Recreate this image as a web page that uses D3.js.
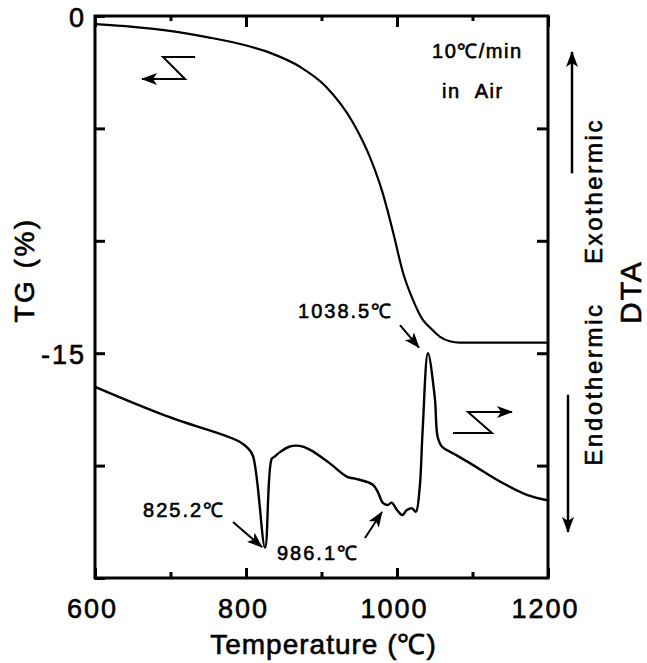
<!DOCTYPE html>
<html>
<head>
<meta charset="utf-8">
<script src="https://cdn.jsdelivr.net/npm/d3@7"></script>
<style>
  body { margin: 0; background: #fff; }
  text { font-family: "Liberation Sans", Arial, Helvetica, sans-serif; fill: #000; stroke: #000; stroke-width: 0.6px; }
</style>
</head>
<body>
<div id="chart"></div>
<script>
// Data
const tgTemp = [600, 650, 699, 750, 799, 832, 872, 905, 942, 964, 981, 995, 1008, 1021, 1034, 1044, 1057, 1070, 1083, 1200];
const tgValue = [-0.36, -0.48, -0.66, -0.95, -1.3, -1.64, -2.27, -3.11, -4.76, -6.27, -7.87, -9.64, -11.42, -12.62, -13.51, -13.87, -14.27, -14.47, -14.53, -14.53];

const dtaTemp = [600, 695, 779, 792, 801, 809, 825.2, 834, 838, 845, 858, 871, 885, 911, 934, 947, 968, 975, 981, 988, 993, 1000, 1007, 1013, 1020, 1025, 1030, 1034, 1041, 1050, 1054, 1060, 1074, 1097, 1140, 1172, 1200];
const dtaValue = [1.70, 1.44, 1.25, 1.21, 1.165, 1.09, 0.27, 1.06, 1.08, 1.12, 1.17, 1.175, 1.14, 1.02, 0.90, 0.88, 0.83, 0.76, 0.67, 0.65, 0.67, 0.605, 0.56, 0.605, 0.62, 0.59, 0.80, 1.32, 2.00, 1.61, 1.25, 1.165, 1.11, 1.02, 0.845, 0.74, 0.69];

const xMajorTicks = [600, 800, 1000, 1200];
const xMinorTicks = [700, 900, 1100];
const tgTicks = [0, -5, -10, -15, -20, -25];
const tgTickLabels = ['0', '', '', '-15', '', ''];
const dtaTicks = [1, 2, 3, 4];

const peakLabels = ['825.2℃', '986.1℃', '1038.5℃'];
const peakLabelAt = [[663.6, 0.543], [841, 0.16], [868.9, 2.313]];
const peakArrows = [[[782.8, 0.498], [821.2, 0.276]], [[957.6, 0.356], [980.1, 0.587]], [[1004, 2.25], [1029.1, 2.05]]];

function draw() {
    let dimensions = {
        width: 647,
        height: 663,
        margin: { top: 16, bottom: 85, left: 95, right: 99 }
    };
    dimensions.ctrWidth = dimensions.width - dimensions.margin.left - dimensions.margin.right;
    dimensions.ctrHeight = dimensions.height - dimensions.margin.top - dimensions.margin.bottom;

    // Scales
    const xScale = d3.scaleLinear().domain([600, 1200]).range([0, dimensions.ctrWidth]);
    const yTG = d3.scaleLinear().domain([-25, 0]).range([dimensions.ctrHeight, 0]);
    const yDTA = d3.scaleLinear().domain([0, 5]).range([dimensions.ctrHeight, 0]);

    const svg = d3.select('#chart')
        .append('svg')
        .attr('width', dimensions.width)
        .attr('height', dimensions.height);

    svg.append('defs').append('marker')
        .attr('id', 'head')
        .attr('markerUnits', 'userSpaceOnUse')
        .attr('markerWidth', 16).attr('markerHeight', 12)
        .attr('refX', 15).attr('refY', 6)
        .attr('orient', 'auto')
        .append('path')
        .attr('d', 'M0,0 L16,6 L0,12 L4,6 Z')
        .attr('fill', '#000');

    const ctr = svg.append('g')
        .attr('transform', `translate(${dimensions.margin.left},${dimensions.margin.top})`);

    // Axes (ticks inward)
    const styleAxis = g => {
        g.select('.domain').remove();
        g.selectAll('.tick line').attr('stroke', '#000').attr('stroke-width', 3);
        g.selectAll('.tick text')
            .attr('font-size', 27)
            .attr('font-family', '"Liberation Sans", Arial, sans-serif')
            .attr('letter-spacing', 2)
            .attr('fill', '#000');
    };

    ctr.append('g')
        .attr('transform', `translate(0,${dimensions.ctrHeight})`)
        .call(d3.axisBottom(xScale).tickValues(xMajorTicks).tickSize(-10).tickPadding(0).tickFormat(d3.format('d')))
        .call(styleAxis)
        .call(g => g.selectAll('.tick text').attr('y', 40).attr('dy', 0).attr('dx', -3));
    ctr.append('g')
        .attr('transform', `translate(0,${dimensions.ctrHeight})`)
        .call(d3.axisBottom(xScale).tickValues(xMinorTicks).tickSize(-6).tickFormat(''))
        .call(styleAxis);
    ctr.append('g')
        .call(d3.axisTop(xScale).tickValues(xMajorTicks).tickSize(-11).tickFormat(''))
        .call(styleAxis);
    ctr.append('g')
        .call(d3.axisTop(xScale).tickValues(xMinorTicks).tickSize(-5).tickFormat(''))
        .call(styleAxis);

    ctr.append('g')
        .call(d3.axisLeft(yTG).tickValues(tgTicks).tickSize(-10).tickPadding(0)
            .tickFormat((d, i) => tgTickLabels[i]))
        .call(styleAxis)
        .call(g => g.selectAll('.tick text').attr('x', -9).attr('dy', '0.38em'));

    ctr.append('g')
        .attr('transform', `translate(${dimensions.ctrWidth},0)`)
        .call(d3.axisRight(yDTA).tickValues(dtaTicks).tickSize(-11).tickFormat(''))
        .call(styleAxis);

    // Frame
    ctr.append('rect')
        .attr('width', dimensions.ctrWidth)
        .attr('height', dimensions.ctrHeight)
        .attr('fill', 'none')
        .attr('stroke', '#000')
        .attr('stroke-width', 3);

    // Curves
    const tgLine = d3.line()
        .x((d, i) => xScale(tgTemp[i]))
        .y(d => yTG(d))
        .curve(d3.curveMonotoneX);

    ctr.append('path')
        .datum(tgValue)
        .attr('d', tgLine)
        .attr('fill', 'none')
        .attr('stroke', '#000')
        .attr('stroke-width', 2.2);

    const dtaLine = d3.line()
        .x((d, i) => xScale(dtaTemp[i]))
        .y(d => yDTA(d))
        .curve(d3.curveCatmullRom.alpha(0.5));

    ctr.append('path')
        .datum(dtaValue)
        .attr('d', dtaLine)
        .attr('fill', 'none')
        .attr('stroke', '#000')
        .attr('stroke-width', 2.4)
        .attr('stroke-linejoin', 'round');

    // Peak labels
    ctr.selectAll('.peak-label')
        .data(peakLabels)
        .join('text')
        .attr('class', 'peak-label')
        .attr('x', (d, i) => xScale(peakLabelAt[i][0]))
        .attr('y', (d, i) => yDTA(peakLabelAt[i][1]))
        .attr('font-size', 20)
        .attr('letter-spacing', 2)
        .text(d => d);

    ctr.selectAll('.peak-arrow')
        .data(peakArrows)
        .join('line')
        .attr('class', 'peak-arrow')
        .attr('x1', d => xScale(d[0][0]))
        .attr('y1', d => yDTA(d[0][1]))
        .attr('x2', d => xScale(d[1][0]))
        .attr('y2', d => yDTA(d[1][1]))
        .attr('stroke', '#000')
        .attr('stroke-width', 2)
        .attr('marker-end', 'url(#head)');

    // Conditions
    ctr.append('text')
        .attr('x', xScale(1046.4))
        .attr('y', yTG(-1.87))
        .attr('font-size', 20)
        .attr('letter-spacing', 1.5)
        .text('10℃/min');
    ctr.append('text')
        .attr('x', xScale(1059.6))
        .attr('y', yTG(-3.64))
        .attr('font-size', 20)
        .attr('letter-spacing', 1.5)
        .text('in\u00a0\u00a0Air');

    // Curve markers: TG -> left axis, DTA -> right axis
    const zLine = d3.line().x(d => xScale(d[0]));
    ctr.append('path')
        .attr('d', zLine.y(d => yTG(d[1]))([[732.5, -1.82], [690.1, -1.82], [719.2, -2.80], [662.3, -2.80]]))
        .attr('fill', 'none')
        .attr('stroke', '#000')
        .attr('stroke-width', 2)
        .attr('marker-end', 'url(#head)');
    ctr.append('path')
        .attr('d', zLine.y(d => yDTA(d[1]))([[1074.2, 1.29], [1125.8, 1.29], [1094.0, 1.477], [1152.3, 1.477]]))
        .attr('fill', 'none')
        .attr('stroke', '#000')
        .attr('stroke-width', 2)
        .attr('marker-end', 'url(#head)');

    // Axis titles
    svg.append('text')
        .attr('x', dimensions.margin.left + dimensions.ctrWidth / 2 + 2)
        .attr('y', 654)
        .attr('text-anchor', 'middle')
        .attr('font-size', 28)
        .attr('letter-spacing', 1)
        .text('Temperature (℃)');

    svg.append('text')
        .attr('transform', 'translate(34,270) rotate(-90)')
        .attr('text-anchor', 'middle')
        .attr('font-size', 28)
        .attr('letter-spacing', 2.5)
        .text('TG (%)');

    const right = dimensions.margin.left + dimensions.ctrWidth;
    svg.append('text')
        .attr('transform', `translate(${right + 93},292) rotate(-90)`)
        .attr('text-anchor', 'middle')
        .attr('font-size', 30)
        .attr('letter-spacing', 2)
        .text('DTA');
    svg.append('text')
        .attr('transform', `translate(${right + 54},191) rotate(-90)`)
        .attr('text-anchor', 'middle')
        .attr('font-size', 24)
        .attr('letter-spacing', 2.6)
        .text('Exothermic');
    svg.append('text')
        .attr('transform', `translate(${right + 54},384) rotate(-90)`)
        .attr('text-anchor', 'middle')
        .attr('font-size', 24)
        .attr('letter-spacing', 2.6)
        .text('Endothermic');

    // Exo / endo direction arrows
    ctr.append('line')
        .attr('x1', dimensions.ctrWidth + 24).attr('x2', dimensions.ctrWidth + 24)
        .attr('y1', yDTA(3.60)).attr('y2', yDTA(4.68))
        .attr('stroke', '#000').attr('stroke-width', 2.5)
        .attr('marker-end', 'url(#head)');
    ctr.append('line')
        .attr('x1', dimensions.ctrWidth + 20).attr('x2', dimensions.ctrWidth + 20)
        .attr('y1', yDTA(1.63)).attr('y2', yDTA(0.41))
        .attr('stroke', '#000').attr('stroke-width', 2.5)
        .attr('marker-end', 'url(#head)');
}

draw();
</script>
</body>
</html>
